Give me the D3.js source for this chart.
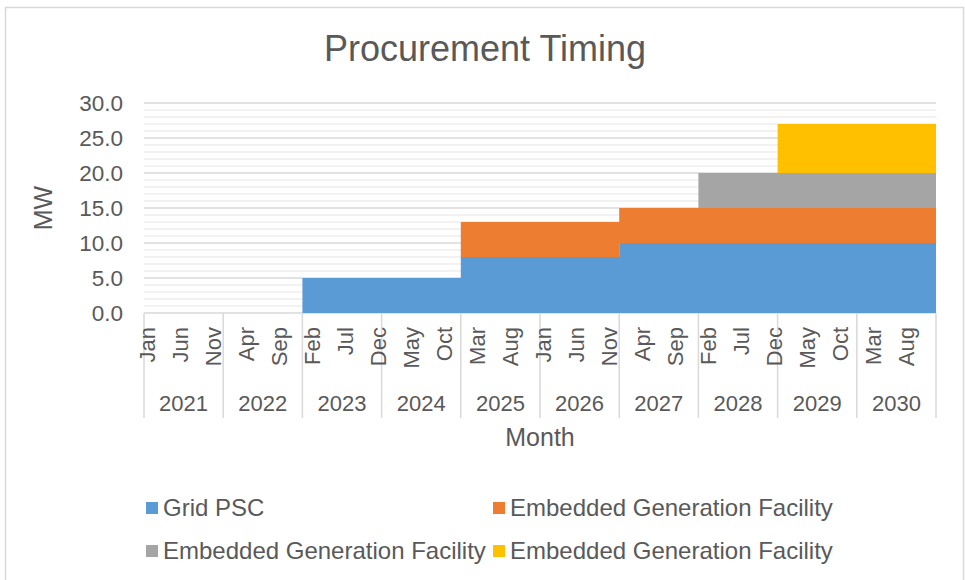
<!DOCTYPE html>
<html>
<head>
<meta charset="utf-8">
<script src="https://cdn.jsdelivr.net/npm/d3@7"></script>
<style>
  body { margin: 0; background: #fff; }
  text { font-family: "Liberation Sans", Arial, sans-serif; fill: #595959; }
</style>
</head>
<body>
<script>
// chart data, one value per year (values hold for every month of that year)
var years = [2021, 2022, 2023, 2024, 2025, 2026, 2027, 2028, 2029, 2030];
var monthNames = ['Jan','Feb','Mar','Apr','May','Jun','Jul','Aug','Sep','Oct','Nov','Dec'];
var gridPSC   = [0, 0, 5, 5, 8, 8, 10, 10, 10, 10];
var embedded1 = [0, 0, 0, 0, 5, 5, 5, 5, 5, 5];
var embedded2 = [0, 0, 0, 0, 0, 0, 0, 5, 5, 5];
var embedded3 = [0, 0, 0, 0, 0, 0, 0, 0, 7, 7];
var seriesNames = ['Grid PSC', 'Embedded Generation Facility', 'Embedded Generation Facility', 'Embedded Generation Facility'];
var seriesColors = ['#5b9bd5', '#ed7d31', '#a5a5a5', '#ffc000'];
var yTicks = [0, 5, 10, 15, 20, 25, 30];

var svgW = 965, svgH = 580;
var plot = {x0: 144, x1: 936, y0: 313, y1: 103};

// monthly table built from the yearly arrays
var keys = ['s0', 's1', 's2', 's3'];
var seriesData = [gridPSC, embedded1, embedded2, embedded3];
var rows = [];
years.forEach(function(yr, yi){
	monthNames.forEach(function(m, mi){
		var r = {i: yi*12 + mi, year: yr, month: m};
		keys.forEach(function(k, si){ r[k] = seriesData[si][yi]; });
		rows.push(r);
	});
});
// closing point so the last month gets its full width
var last = Object.assign({}, rows[rows.length-1]); last.i = rows.length; rows.push(last);

var x = d3.scaleLinear().domain([0, years.length*12]).range([plot.x0, plot.x1]);
var y = d3.scaleLinear().domain([0, 30]).range([plot.y0, plot.y1]);

var svg = d3.select('body').append('svg').attr('width', svgW).attr('height', svgH);

// chart border
svg.append('rect').attr('x', 5.5).attr('y', 7.5).attr('width', 958).attr('height', 600)
	.attr('fill', 'none').attr('stroke', '#d9d9d9').attr('stroke-width', 1.5);

// title
svg.append('text').attr('x', 485).attr('y', 61).attr('text-anchor', 'middle')
	.style('font-size', '36px').text('Procurement Timing');

// gridlines: minor every 1, major every 5
svg.append('g').selectAll('line').data(d3.range(0, 31).filter(function(d){ return d % 5 != 0; })).enter().append('line')
	.attr('x1', plot.x0).attr('x2', plot.x1)
	.attr('y1', function(d){ return y(d); }).attr('y2', function(d){ return y(d); })
	.attr('stroke', '#eeeeee').attr('stroke-width', 1.3);
svg.append('g').selectAll('line').data(yTicks).enter().append('line')
	.attr('x1', plot.x0).attr('x2', plot.x1)
	.attr('y1', function(d){ return y(d); }).attr('y2', function(d){ return y(d); })
	.attr('stroke', '#d9d9d9').attr('stroke-width', 1.6);

// stacked step areas
var stack = d3.stack().keys(keys);
var area = d3.area().curve(d3.curveStepAfter)
	.x(function(d){ return x(d.data.i); })
	.y0(function(d){ return y(d[0]); })
	.y1(function(d){ return y(d[1]); });
svg.append('g').selectAll('path').data(stack(rows)).enter().append('path')
	.attr('d', area).attr('fill', function(d, i){ return seriesColors[i]; });

// y axis labels
svg.append('g').selectAll('text').data(yTicks).enter().append('text')
	.attr('x', 123).attr('y', function(d){ return y(d); }).attr('dy', '0.36em')
	.attr('text-anchor', 'end').style('font-size', '22.5px')
	.text(function(d){ return d.toFixed(1); });
svg.append('text').attr('transform', 'translate(43,' + ((plot.y0+plot.y1)/2) + ') rotate(-90)')
	.attr('dy', '0.36em').attr('text-anchor', 'middle').style('font-size', '25px').text('MW');

// year separators on the category axis
svg.append('g').selectAll('line').data(d3.range(0, years.length+1)).enter().append('line')
	.attr('x1', function(d){ return x(d*12); }).attr('x2', function(d){ return x(d*12); })
	.attr('y1', plot.y0).attr('y2', 418)
	.attr('stroke', '#d9d9d9').attr('stroke-width', 1.5);

// month labels every 5th month, rotated
var monthTicks = rows.slice(0, years.length*12).filter(function(d){ return d.i % 5 == 0; });
svg.append('g').selectAll('text').data(monthTicks).enter().append('text')
	.attr('transform', function(d){ return 'translate(' + x(d.i + 0.5) + ',327) rotate(-90)'; })
	.attr('dy', '0.36em').attr('text-anchor', 'end').style('font-size', '22px')
	.text(function(d){ return d.month; });

// year labels
svg.append('g').selectAll('text').data(years).enter().append('text')
	.attr('x', function(d, i){ return x(i*12 + 6); }).attr('y', 411)
	.attr('text-anchor', 'middle').style('font-size', '22px')
	.text(function(d){ return d; });

svg.append('text').attr('x', (plot.x0+plot.x1)/2).attr('y', 446).attr('text-anchor', 'middle')
	.style('font-size', '25px').text('Month');

// legend, two columns
var legendPos = [{x: 146, y: 516}, {x: 493, y: 516}, {x: 146, y: 559}, {x: 493, y: 559}];
var leg = svg.append('g').selectAll('g').data(seriesNames).enter().append('g')
	.attr('transform', function(d, i){ return 'translate(' + legendPos[i].x + ',' + legendPos[i].y + ')'; });
leg.append('rect').attr('x', 0).attr('y', -14).attr('width', 12).attr('height', 12)
	.attr('fill', function(d, i){ return seriesColors[i]; });
leg.append('text').attr('x', 17).attr('y', 0).style('font-size', '24px').text(function(d){ return d; });
</script>
</body>
</html>
